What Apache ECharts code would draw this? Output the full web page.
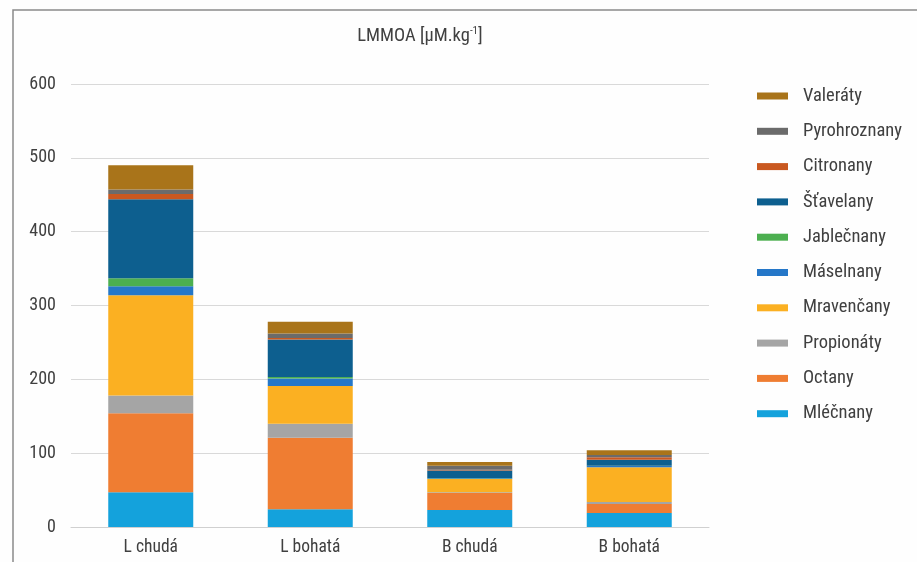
<!DOCTYPE html>
<html>
<head>
<meta charset="utf-8">
<script src="https://cdn.jsdelivr.net/npm/echarts@6/dist/echarts.min.js"></script>
<style>
html,body{margin:0;padding:0;background:#fefefe;}
#c{width:917px;height:562px;}
</style>
</head>
<body>
<div id="c"></div>
<script>
const categories = ['L chudá', 'L bohatá', 'B chudá', 'B bohatá'];
const seriesNames = ['Mléčnany', 'Octany', 'Propionáty', 'Mravenčany', 'Máselnany', 'Jablečnany', 'Šťavelany', 'Citronany', 'Pyrohroznany', 'Valeráty'];
const mlecnany = [47, 24, 23, 19];
const octany = [107, 97, 23, 12];
const propionaty = [24, 19, 1, 3];
const mravencany = [136, 51, 18, 47];
const maselnany = [12, 10, 1, 1.5];
const jablecnany = [11, 2, 0.5, 0.5];
const stavelany = [107, 51, 10, 8];
const citronany = [7, 2, 1, 3.5];
const pyrohroznany = [6, 6, 5.5, 3];
const valeraty = [33, 16, 5, 6.5];
const yTicks = [0, 100, 200, 300, 400, 500, 600];

const values = [mlecnany, octany, propionaty, mravencany, maselnany, jablecnany, stavelany, citronany, pyrohroznany, valeraty];
const colors = ['#14a2dc', '#ef7d32', '#a5a5a5', '#fbb022', '#2577c8', '#4caf50', '#0d5f8f', '#c95820', '#6b6b6b', '#a9741a'];
const FONT = "'Liberation Sans Narrow', 'Arial Narrow', 'Roboto Condensed', 'Liberation Sans', sans-serif";

const chart = echarts.init(document.getElementById('c'));
chart.setOption({
  backgroundColor: '#fefefe',
  animation: false,
  title: {
    text: 'LMMOA [μM.kg{sup|-1}]',
    left: 415, top: 21, textAlign: 'center',
    textStyle: {
      fontFamily: FONT, fontSize: 18.5, fontWeight: 'normal', color: '#404040',
      rich: { sup: { fontFamily: FONT, fontSize: 11, color: '#404040', verticalAlign: 'top', padding: [0, 0, 9, 0] } }
    }
  },
  graphic: [{
    type: 'rect', shape: { x: 13, y: 10, width: 1000, height: 1000 },
    style: { fill: 'none', stroke: '#8a8a8a', lineWidth: 1.5 }, silent: true
  }],
  legend: {
    orient: 'vertical', left: 752, top: 81,
    data: seriesNames.slice().reverse(),
    itemWidth: 31, itemHeight: 7, itemGap: 15.3,
    icon: 'rect',
    textStyle: { fontFamily: FONT, fontSize: 18.5, color: '#404040', lineHeight: 20, padding: [0, 0, 0, 10] }
  },
  grid: { left: 71, right: 208, top: 84, bottom: 35, containLabel: false },
  xAxis: {
    type: 'category', data: categories,
    axisLine: { lineStyle: { color: '#d0d0d0', width: 1 } },
    axisTick: { show: false },
    axisLabel: { fontFamily: FONT, fontSize: 17.5, color: '#404040', margin: 12 }
  },
  yAxis: {
    type: 'value', min: yTicks[0], max: yTicks[yTicks.length - 1], interval: 100,
    axisLine: { show: false }, axisTick: { show: false },
    splitLine: { lineStyle: { color: '#d9d9d9', width: 1 } },
    axisLabel: { fontFamily: FONT, fontSize: 18, color: '#404040', margin: 15 }
  },
  series: seriesNames.map((n, i) => ({
    name: n, type: 'bar', stack: 'total', barWidth: 85,
    data: values[i],
    itemStyle: { color: colors[i] }
  }))
});
</script>
</body>
</html>
